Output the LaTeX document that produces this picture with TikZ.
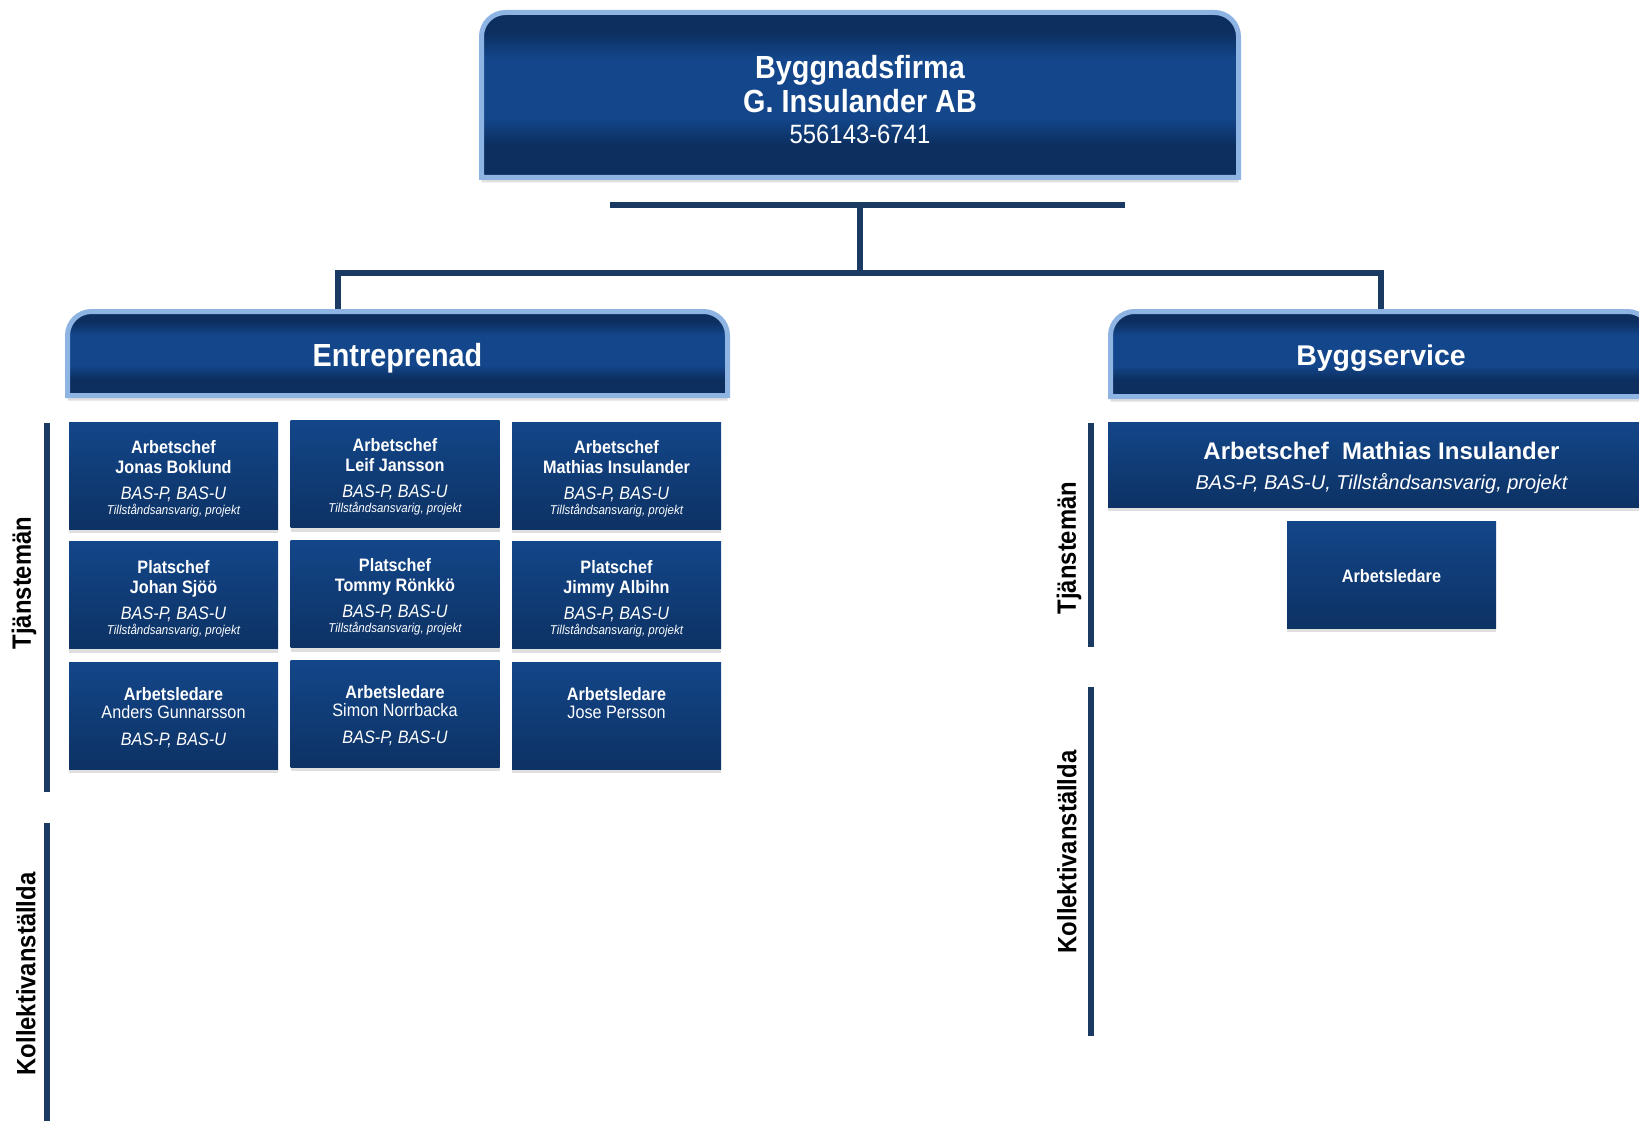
\documentclass[tikz,border=0pt]{standalone}
\usepackage{fontspec}
\setmainfont{Liberation Sans}
\newfontfamily\narrow[FakeStretch=0.9]{Liberation Sans}
\usepackage{tikz}
\usetikzlibrary{shadows,backgrounds,positioning}
\definecolor{tabdark}{HTML}{0C2F60}
\definecolor{tablight}{HTML}{13468A}
\definecolor{tabedge}{HTML}{8DB4E2}
\definecolor{celltop}{HTML}{134689}
\definecolor{cellbot}{HTML}{0D3264}
\definecolor{linkblue}{HTML}{1B3A63}
\pgfdeclareverticalshading{tabband}{100bp}{color(0bp)=(tabdark); color(25bp)=(tabdark); color(35bp)=(tabdark); color(43bp)=(tablight); color(61bp)=(tablight); color(69bp)=(tabdark); color(100bp)=(tabdark)}
\newcommand{\permitnote}[1]{{\fontsize{12.8}{14}\selectfont\itshape #1}}
\newcommand{\lift}[1]{\rule{0pt}{#1}}

\begin{document}
\begin{tikzpicture}[x=1pt, y=-1pt,
    every node/.append style={text=white, inner sep=0pt, outer sep=0pt, align=center},
    tab/.style={rectangle},
    tabshape/.style={draw=tabedge, line width=5pt, shade, shading=tabband,
      drop shadow={shadow xshift=0pt, shadow yshift=-5pt, opacity=.25}},
    cell/.style={rectangle, minimum width=209pt, minimum height=107pt,
      top color=celltop, bottom color=cellbot,
      drop shadow={shadow xshift=0pt, shadow yshift=-4pt, opacity=.25},
      font=\narrow\fontsize{18}{20}\selectfont},
    side/.style={rotate=90, text=black, font=\narrow\bfseries\fontsize{26.5}{30}\selectfont},
    link/.style={draw=linkblue, line width=6pt},
    sidebar/.style={draw=linkblue, line width=6pt}]
    \useasboundingbox (0,0) rectangle (1639,1121);

    \node[tab, minimum width=757pt, minimum height=165pt,
      font=\narrow\bfseries\fontsize{32}{34}\selectfont] (firm) at (860,95)
      {\lift{32pt}Byggnadsfirma\\G. Insulander AB\\[-3pt]{\mdseries\fontsize{26.5}{30}\selectfont 556143-6741}};
    \node[tab, minimum width=660pt, minimum height=84pt,
      font=\narrow\bfseries\fontsize{32}{34}\selectfont] (entre) at (397.5,353.5) {\lift{31.7pt}Entreprenad};
    \node[tab, minimum width=541pt, minimum height=85pt,
      font=\bfseries\fontsize{28.5}{32}\selectfont] (bygg) at (1381,354) {\lift{29.2pt}Byggservice};

    \begin{scope}[on background layer]
      \foreach \t in {firm,entre,bygg}
        \draw[tabshape] (\t.south west) [rounded corners=24pt] -- (\t.north west)
          -- (\t.north east) [sharp corners] -- (\t.south east) -- cycle;
    \end{scope}

    \coordinate (barL) at (610,205);
    \coordinate (barR) at (1125,205);
    \coordinate (barM) at (860,205);
    \coordinate (split) at (860,273);
    \coordinate (entreTop) at (338,309);
    \coordinate (byggTop) at (1381,309);
    \draw[link] (barL) -- (barR);
    \draw[link] (barM) -- (split);
    \draw[link] (entreTop) |- (split) -| (byggTop);

    \node[cell] (chef1) at (173.5,475.5)
      {\lift{19.5pt}\textbf{Arbetschef}\\\textbf{Jonas Boklund}\\[6pt]\textit{BAS-P, BAS-U}\\[-5pt]\permitnote{Tillståndsansvarig, projekt}};
    \node[cell] (chef2) at (395,474)
      {\lift{19.5pt}\textbf{Arbetschef}\\\textbf{Leif Jansson}\\[6pt]\textit{BAS-P, BAS-U}\\[-5pt]\permitnote{Tillståndsansvarig, projekt}};
    \node[cell] (chef3) at (616.5,475.5)
      {\lift{19.5pt}\textbf{Arbetschef}\\\textbf{Mathias Insulander}\\[6pt]\textit{BAS-P, BAS-U}\\[-5pt]\permitnote{Tillståndsansvarig, projekt}};
    \node[cell] (plats1) at (173.5,595)
      {\lift{20.5pt}\textbf{Platschef}\\\textbf{Johan Sjöö}\\[6pt]\textit{BAS-P, BAS-U}\\[-5pt]\permitnote{Tillståndsansvarig, projekt}};
    \node[cell] (plats2) at (395,594)
      {\lift{19.5pt}\textbf{Platschef}\\\textbf{Tommy Rönkkö}\\[6pt]\textit{BAS-P, BAS-U}\\[-5pt]\permitnote{Tillståndsansvarig, projekt}};
    \node[cell] (plats3) at (616.5,595)
      {\lift{20.5pt}\textbf{Platschef}\\\textbf{Jimmy Albihn}\\[6pt]\textit{BAS-P, BAS-U}\\[-5pt]\permitnote{Tillståndsansvarig, projekt}};
    \node[cell] (leder1) at (173.5,715.5)
      {\lift{18pt}\textbf{Arbetsledare}\\[-2pt]Anders Gunnarsson\\[7pt]\textit{BAS-P, BAS-U}};
    \node[cell] (leder2) at (395,713.5)
      {\lift{18pt}\textbf{Arbetsledare}\\[-2pt]Simon Norrbacka\\[7pt]\textit{BAS-P, BAS-U}};
    \node[cell] (leder3) at (616.5,715.5)
      {\lift{18pt}\textbf{Arbetsledare}\\[-2pt]Jose Persson\\[7pt]\phantom{\textit{BAS-P, BAS-U}}};

    \node[cell, minimum width=547pt, minimum height=85pt, font=\fontsize{24}{31}\selectfont] (chefB) at (1381.5,464.5)
      {\lift{25pt}\textbf{Arbetschef\ \ Mathias Insulander}\\[-1pt]{\fontsize{20}{24}\selectfont\itshape BAS-P, BAS-U, Tillståndsansvarig, projekt}};
    \node[cell] (lederB) at (1391.5,574.5) {\lift{17pt}\textbf{Arbetsledare}};

    \node[side] (tjL) at (24,583) {Tjänstemän};
    \node[side] (kolL) at (26,974) {Kollektivanställda};
    \node[side] (tjR) at (1069,548) {Tjänstemän};
    \node[side] (kolR) at (1067,852) {Kollektivanställda};
    \draw[sidebar] (47,423) -- (47,792);
    \draw[sidebar] (47,823) -- (47,1121);
    \draw[sidebar] (1090.5,423) -- (1090.5,647);
    \draw[sidebar] (1090.5,687) -- (1090.5,1036);
\end{tikzpicture}
\end{document}
